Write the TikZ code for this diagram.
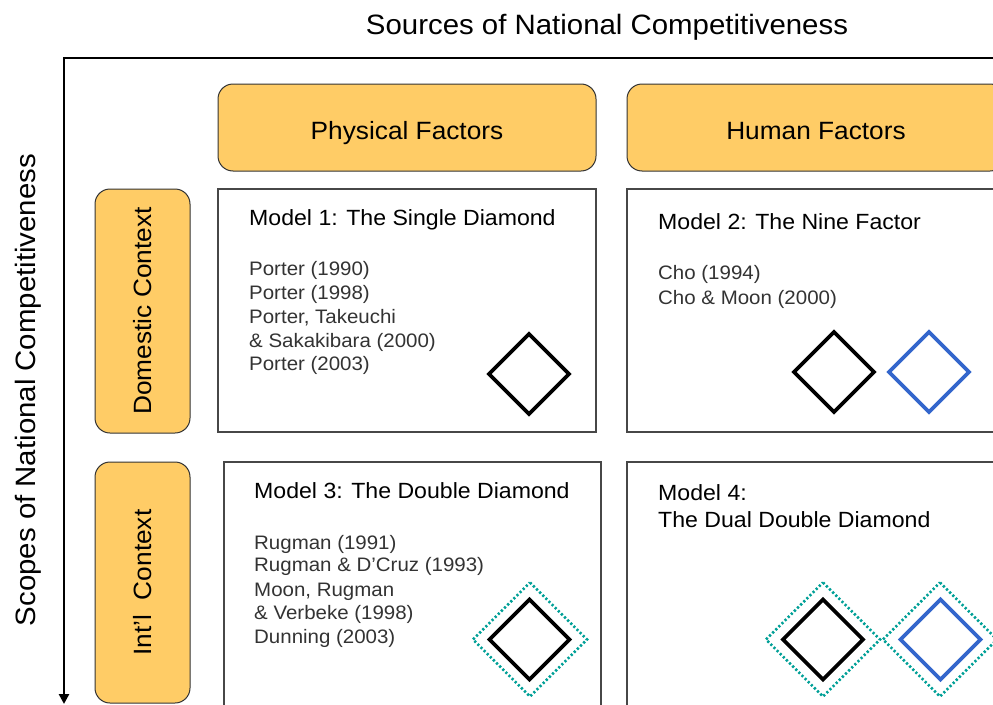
\documentclass[tikz,border=0pt]{standalone}
\usepackage{fontspec}
\setmainfont{Liberation Sans}[FakeStretch=1.05]
\usetikzlibrary{arrows.meta}
\definecolor{orng}{HTML}{FFCC66}
\definecolor{tealc}{HTML}{00A097}
\definecolor{dblue}{HTML}{3366CC}
\definecolor{reftext}{HTML}{333333}
\begin{document}
\begin{tikzpicture}[x=1pt,y=-1pt,
  obox/.style={draw=black!80, line width=1pt, fill=orng, rounded corners=15pt, inner sep=0pt},
  wbox/.style={draw=black!72, line width=1.3pt, fill=white, inner sep=0pt},
  head/.style={font=\fontsize{25}{30}\selectfont, inner sep=0pt, text height=18pt, text depth=0pt},
  mtitle/.style={font=\fontsize{22}{26}\selectfont, anchor=base west, inner sep=0pt},
  reftxt/.style={font=\fontsize{19.5}{23}\selectfont, text=reftext, anchor=base west, inner sep=0pt},
  axlbl/.style={font=\fontsize{28}{32}\selectfont, inner sep=0pt, text height=20pt, text depth=0pt},
  solidk/.style={draw=black, line width=3.6pt, line join=miter},
  solidb/.style={draw=dblue, line width=3.6pt, line join=miter},
  dotd/.style={draw=tealc, line width=2.6pt, dash pattern=on 2.2pt off 2.2pt},
  dmd/.pic={\draw[pic actions] (0,-#1) -- (#1,0) -- (0,#1) -- (-#1,0) -- cycle;}
]
\useasboundingbox (0,0) rectangle (993,704);
\clip (0,0) rectangle (993,704);

% axes
\node[axlbl] (title) at (607,24) {Sources of National Competitiveness};
\node[axlbl, rotate=90] (scope) at (25,390) {Scopes of National Competitiveness};
\coordinate (orig) at (64,58);
\coordinate (xend) at (1010,58);
\coordinate (yend) at (64,704);
\draw[line width=2.6pt, line join=miter, -{Triangle[length=10pt,width=10pt]}] (xend) -- (orig) -- (yend);

% column headers
\node[obox, minimum width=378pt, minimum height=87pt] (phys) at (407,127.5) {};
\node[head] (physt) at ([yshift=-2.5pt]phys.center) {Physical Factors};
\node[obox, minimum width=378pt, minimum height=87pt] (human) at (816,127.5) {};
\node[head] (humant) at ([yshift=-2.5pt]human.center) {Human Factors};

% row headers
\node[obox, minimum width=95pt, minimum height=244pt] (dom) at (142.5,311) {};
\node[head, rotate=90] (domt) at (dom.center) {Domestic Context};
\node[obox, minimum width=95pt, minimum height=241pt] (intl) at (142.5,582.5) {};
\node[head, rotate=90] (intlt) at (intl.center) {Int’l\ \ Context};

% model boxes
\node[wbox, minimum width=378pt, minimum height=243pt] (m1) at (407,310.5) {};
\node[wbox, minimum width=378pt, minimum height=243pt] (m2) at (816,310.5) {};
\node[wbox, minimum width=377pt, minimum height=260pt] (m3) at (412.5,592) {};
\node[wbox, minimum width=378pt, minimum height=260pt] (m4) at (816,592) {};

% Model 1
\node[mtitle] (m1t) at (249,225) {Model 1: The Single Diamond};
\node[reftxt] (m1r1) at (249,275) {Porter (1990)};
\node[reftxt] (m1r2) at (249,299) {Porter (1998)};
\node[reftxt] (m1r3) at (249,323) {Porter, Takeuchi};
\node[reftxt] (m1r4) at (249,347) {\& Sakakibara (2000)};
\node[reftxt] (m1r5) at (249,370) {Porter (2003)};
\pic[solidk] at (529,374) {dmd=40};

% Model 2
\node[mtitle] (m2t) at (658,229) {Model 2: The Nine Factor};
\node[reftxt] (m2r1) at (658,279) {Cho (1994)};
\node[reftxt] (m2r2) at (658,304) {Cho \& Moon (2000)};
\pic[solidk] at (834,372) {dmd=40};
\pic[solidb] at (929,372) {dmd=40};

% Model 3
\node[mtitle] (m3t) at (254,498) {Model 3: The Double Diamond};
\node[reftxt] (m3r1) at (254,549) {Rugman (1991)};
\node[reftxt] (m3r2) at (254,571) {Rugman \& D’Cruz (1993)};
\node[reftxt] (m3r3) at (254,596) {Moon, Rugman};
\node[reftxt] (m3r4) at (254,619) {\& Verbeke (1998)};
\node[reftxt] (m3r5) at (254,643) {Dunning (2003)};
\pic[dotd] at (530,639.5) {dmd=57};
\pic[solidk] at (529.5,639.5) {dmd=40};

% Model 4
\node[mtitle] (m4t) at (658,500) {Model 4:};
\node[mtitle] (m4t2) at (658,527) {The Dual Double Diamond};
\pic[dotd] at (823,639.5) {dmd=57};
\pic[dotd] at (940,639.5) {dmd=57};
\pic[solidk] at (823,639.5) {dmd=40};
\pic[solidb] at (940.5,639.5) {dmd=40};
\end{tikzpicture}
\end{document}
